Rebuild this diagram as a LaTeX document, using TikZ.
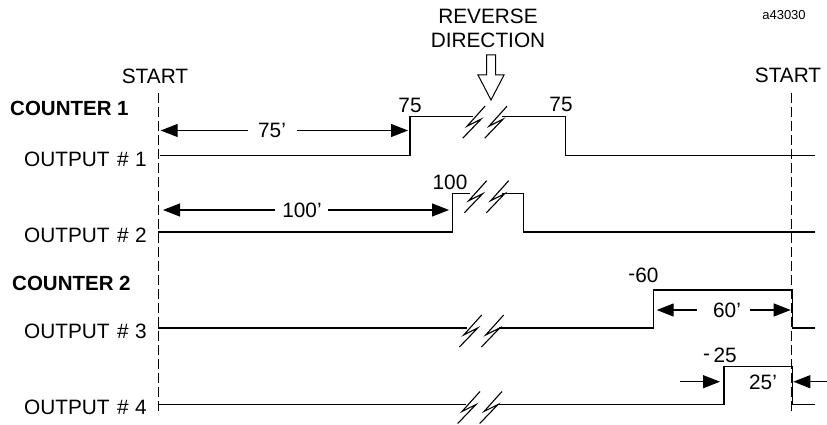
\documentclass[tikz,border=0pt]{standalone}
\usepackage{fontspec}
\setmainfont{Liberation Sans}
\usetikzlibrary{arrows.meta}
\begin{document}
\begin{tikzpicture}[x=1pt,y=-1pt,
  sig/.style={line width=1.2pt, line join=miter},
  guide/.style={line width=1.2pt, dash pattern=on 10pt off 4pt},
  dimarrow/.style={line width=1.2pt, -{Triangle[length=17pt,width=13pt]}},
  lbl/.style={font=\fontsize{20.8}{24}\selectfont, inner sep=0pt},
  boldlbl/.style={font=\fontsize{20.5}{24}\selectfont\bfseries, inner sep=0pt},
  smalllbl/.style={font=\fontsize{13}{15}\selectfont, inner sep=0pt},
  brk/.pic={
    \draw[line width=1.1pt, line join=miter] (0,-12) -- (-18,8) -- (-4,1) -- (-22.3,20);
    \draw[line width=1.1pt, line join=miter] (22,-12) -- (4,8) -- (18,1) -- (-0.3,20);
  }]
\useasboundingbox (0,0) rectangle (827,425);

% guides
\coordinate (gL1) at (158.3,93);  \coordinate (gL2) at (158.3,415);
\coordinate (gR1) at (791.7,93);  \coordinate (gR2) at (791.7,415);
\draw[guide] (gL1) -- (gL2);
\draw[guide] (gR1) -- (gR2);

% texts
\node[smalllbl] (fig) at (784,15) {a43030};
\node[lbl] (rev1) at (488,16.7) {REVERSE};
\node[lbl] (rev2) at (488,40.8) {DIRECTION};
\node[lbl] (startL) at (155,76.7) {START};
\node[lbl] (startR) at (788,75) {START};
\node[boldlbl, anchor=west] (c1) at (10,108) {COUNTER 1};
\node[boldlbl, anchor=west] (c2) at (12,283) {COUNTER 2};
\node[lbl, anchor=east] (o1) at (147,159) {OUTPUT\hspace{7.5pt}\#\hspace{6.5pt}1};
\node[lbl, anchor=east] (o2) at (147,235.5) {OUTPUT\hspace{7.5pt}\#\hspace{6.5pt}2};
\node[lbl, anchor=east] (o3) at (147,331) {OUTPUT\hspace{7.5pt}\#\hspace{6.5pt}3};
\node[lbl, anchor=east] (o4) at (147,407.5) {OUTPUT\hspace{7.5pt}\#\hspace{6.5pt}4};

% reverse direction hollow arrow
\draw[line width=1pt, line join=miter] (486.5,55) -- (495.5,55) -- (495.5,75) -- (504,75)
  -- (491,100) -- (478,75) -- (486.5,75) -- cycle;

% output 1
\draw[sig] (160,155.7) -- (410,155.7) -- (410,116.7) -- (473,116.7);
\draw[sig] (502,116.7) -- (565.7,116.7) -- (565.7,155.7) -- (815,155.7);
\pic at (485,118.2) {brk};
\node[lbl] (n75a) at (410,105) {75};
\node[lbl] (n75b) at (561,104) {75};
\node[lbl] (d75) at (272,130.5) {75'};
\coordinate (d75La) at (248,130.5); \coordinate (d75Lb) at (160.7,130.5);
\coordinate (d75Ra) at (297,130.5); \coordinate (d75Rb) at (408,130.5);
\draw[dimarrow] (d75La) -- (d75Lb);
\draw[dimarrow] (d75Ra) -- (d75Rb);

% output 2
\draw[sig] (158,232) -- (452.7,232) -- (452.7,193.3) -- (470,193.3);
\draw[sig] (502,193.3) -- (523.3,193.3) -- (523.3,232) -- (815,232);
\pic at (486.7,192.7) {brk};
\node[lbl] (n100) at (450,182) {100};
\node[lbl] (d100) at (302,210) {100'};
\coordinate (d100La) at (275,210); \coordinate (d100Lb) at (163,210);
\coordinate (d100Ra) at (328,210); \coordinate (d100Rb) at (449,210);
\draw[dimarrow] (d100La) -- (d100Lb);
\draw[dimarrow] (d100Ra) -- (d100Rb);

% output 3
\draw[sig] (158,328) -- (467,328);
\draw[sig] (499,328) -- (653.3,328) -- (653.3,290) -- (792.3,290) -- (792.3,328) -- (815,328);
\pic at (481.7,327) {brk};
\node[lbl] (n60) at (643.5,275) {\raisebox{2pt}{-}60};
\node[lbl] (d60) at (727,310) {60'};
\coordinate (d60La) at (696.7,310); \coordinate (d60Lb) at (656.7,310);
\coordinate (d60Ra) at (750,310); \coordinate (d60Rb) at (790.7,310);
\draw[dimarrow] (d60La) -- (d60Lb);
\draw[dimarrow] (d60Ra) -- (d60Rb);

% output 4
\draw[sig] (158,404.5) -- (466,404.5);
\draw[sig] (497,404.5) -- (724,404.5) -- (724,366.7) -- (792.3,366.7) -- (792.3,404.5) -- (815,404.5);
\pic at (480,403.5) {brk};
\node[lbl] (n25) at (720,355) {\raisebox{2pt}{-}\,25};
\node[lbl] (d25) at (763,382) {25'};
\coordinate (d25La) at (680,381.7); \coordinate (d25Lb) at (720,381.7);
\coordinate (d25Ra) at (826.7,381.7); \coordinate (d25Rb) at (793.3,381.7);
\draw[dimarrow] (d25La) -- (d25Lb);
\draw[dimarrow] (d25Ra) -- (d25Rb);
\end{tikzpicture}
\end{document}
